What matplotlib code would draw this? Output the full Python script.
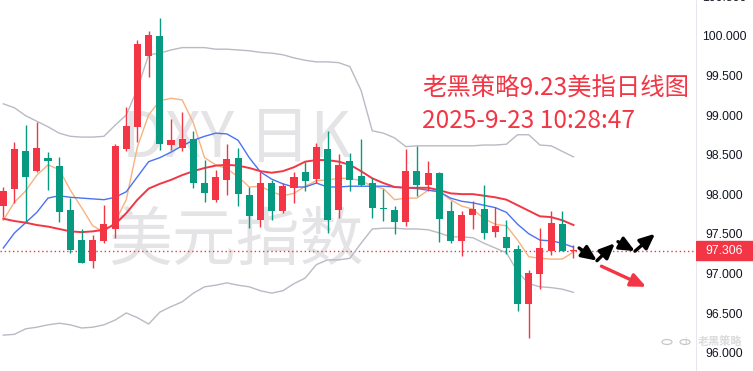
import matplotlib
matplotlib.use("Agg")
import matplotlib.pyplot as plt
from matplotlib.patches import Circle
import numpy as np

# ---- data (DXY daily candles) ----
opens = [97.870, 98.085, 98.564, 98.312, 98.476, 98.375, 97.820, 97.441, 97.176, 97.428,
         97.580, 98.590, 98.867, 99.764, 100.016, 98.640, 98.602, 98.716, 98.160, 97.946,
         98.198, 98.476, 98.009, 97.693, 98.160, 97.807, 98.097, 98.299, 98.211, 98.590,
         97.820, 98.438, 98.249, 98.160, 97.845, 97.820, 97.668, 98.312, 98.135, 98.287,
         97.807, 97.428, 97.756, 97.832, 97.542, 97.479, 97.327, 96.633, 97.011, 97.302,
         97.643, 97.300]
highs = [98.110, 98.678, 98.893, 98.931, 98.552, 98.489, 97.971, 97.580, 97.504, 97.883,
         98.653, 99.120, 99.966, 100.080, 100.244, 98.969, 99.057, 98.817, 98.451, 98.325,
         98.653, 98.602, 98.110, 98.299, 98.198, 98.160, 98.299, 98.426, 98.665, 98.817,
         98.527, 98.539, 98.716, 98.224, 98.085, 97.870, 98.590, 98.628, 98.438, 98.299,
         97.933, 97.807, 97.933, 98.135, 97.857, 97.693, 97.378, 97.062, 97.592, 97.807,
         97.807, 97.378]
lows = [97.731, 97.908, 97.668, 98.299, 98.072, 97.668, 97.277, 97.150, 97.087, 97.403,
        97.466, 98.564, 98.678, 99.499, 98.577, 98.577, 98.564, 98.097, 97.921, 97.921,
        98.009, 97.870, 97.592, 97.605, 97.693, 97.782, 97.908, 98.059, 98.160, 97.529,
        97.719, 98.059, 98.123, 97.719, 97.681, 97.517, 97.618, 97.996, 98.059, 97.416,
        97.403, 97.239, 97.580, 97.453, 97.479, 97.264, 96.544, 96.203, 96.822, 97.251,
        97.302, 97.213]
closes = [98.059, 98.590, 98.236, 98.602, 98.438, 97.794, 97.314, 97.150, 97.441, 97.643,
          98.628, 98.880, 99.915, 100.029, 98.653, 98.703, 98.716, 98.160, 98.034, 98.236,
          98.463, 98.022, 97.744, 98.160, 97.807, 98.123, 98.236, 98.186, 98.615, 97.693,
          98.388, 98.198, 98.135, 97.845, 97.832, 97.668, 98.312, 98.135, 98.287, 97.706,
          97.428, 97.756, 97.832, 97.529, 97.618, 97.340, 96.633, 97.024, 97.340, 97.655,
          97.302, 97.306]

boll_upper = [99.16, 99.11, 99.01, 98.94, 98.87, 98.79, 98.75, 98.74, 98.74, 98.75,
              98.89, 99.02, 99.35, 99.78, 99.80, 99.84, 99.87, 99.87, 99.87, 99.85,
              99.85, 99.84, 99.83, 99.81, 99.80, 99.78, 99.74, 99.71, 99.69, 99.69,
              99.68, 99.63, 99.33, 98.82, 98.79, 98.73, 98.62, 98.63, 98.63, 98.63,
              98.63, 98.63, 98.63, 98.64, 98.64, 98.65, 98.77, 98.77, 98.64, 98.63,
              98.56, 98.49]
boll_lower = [96.24, 96.25, 96.32, 96.34, 96.37, 96.39, 96.37, 96.33, 96.34, 96.37,
              96.43, 96.52, 96.46, 96.38, 96.53, 96.60, 96.66, 96.77, 96.85, 96.87,
              96.90, 96.87, 96.85, 96.80, 96.77, 96.80, 96.89, 96.96, 97.13, 97.19,
              97.19, 97.21, 97.40, 97.58, 97.59, 97.59, 97.58, 97.58, 97.57, 97.53,
              97.48, 97.48, 97.47, 97.40, 97.34, 97.28, 97.04, 96.89, 96.85, 96.84,
              96.82, 96.78]
ma20 = [97.71, 97.68, 97.66, 97.63, 97.61, 97.58, 97.55, 97.54, 97.55, 97.57,
        97.64, 97.78, 97.95, 98.09, 98.15, 98.20, 98.26, 98.31, 98.35, 98.38,
        98.39, 98.38, 98.35, 98.31, 98.29, 98.31, 98.36, 98.43, 98.45, 98.45,
        98.43, 98.39, 98.31, 98.22, 98.16, 98.11, 98.10, 98.10, 98.10, 98.07,
        98.03, 98.02, 98.02, 98.00, 97.98, 97.95, 97.88, 97.81, 97.74, 97.73,
        97.69, 97.63]
ma10 = [97.34, 97.53, 97.66, 97.79, 97.97, 98.00, 97.98, 97.97, 97.96, 97.95,
        97.98, 98.05, 98.24, 98.43, 98.48, 98.55, 98.63, 98.70, 98.75, 98.79,
        98.78, 98.70, 98.48, 98.30, 98.21, 98.15, 98.11, 98.11, 98.16, 98.11,
        98.11, 98.12, 98.12, 98.12, 98.12, 98.11, 98.10, 98.09, 98.07, 98.05,
        97.97, 97.93, 97.91, 97.88, 97.85, 97.79, 97.64, 97.52, 97.44, 97.43,
        97.40, 97.35]
ma5 = [97.69, 97.92, 98.06, 98.26, 98.39, 98.33, 98.07, 97.85, 97.62, 97.54,
       97.67, 97.95, 98.62, 99.02, 99.20, 99.23, 99.21, 98.92, 98.48, 98.39,
       98.34, 98.24, 98.11, 98.12, 98.05, 98.00, 98.03, 98.12, 98.19, 98.20,
       98.22, 98.22, 98.19, 98.12, 98.09, 97.95, 97.97, 97.97, 98.07, 98.05,
       97.95, 97.87, 97.83, 97.71, 97.64, 97.62, 97.44, 97.23, 97.21, 97.20,
       97.20, 97.29]

price_ticks = [96.0, 96.5, 97.0, 97.5, 98.0, 98.5, 99.0, 99.5, 100.0, 100.5]
last_price = 97.306

title_line1 = "老黑策略9.23美指日线图"
title_line2 = "2025-9-23 10:28:47"
watermark1 = "DXY 日K"
watermark2 = "美元指数"
logo_text = "老黑策略"

# ---- style ----
UP = "#f23645"
DOWN = "#089981"
W, H = 753, 371
plt.rcParams['font.family'] = ['Noto Sans CJK SC', 'DejaVu Sans']

fig = plt.figure(figsize=(W / 100, H / 100), dpi=100)
fig.patch.set_facecolor("white")
axis_x = 696
ax = fig.add_axes([0, 0, axis_x / W, 1])
ax2 = fig.add_axes([axis_x / W, 0, 1 - axis_x / W, 1])

ymin, ymax = 95.787, 100.471
spacing = 11.18
xmin = -3.3 / spacing
xmax = (axis_x - 3.3) / spacing
ax.set_xlim(xmin, xmax)
ax.set_ylim(ymin, ymax)
ax2.set_ylim(ymin, ymax)
ax2.set_xlim(0, 1)
for a in (ax, ax2):
    a.set_axis_off()

x = np.arange(len(closes))

# watermark
wm_x = (236 - 3.3) / spacing
ax.text(wm_x, 98.72, watermark1, fontsize=45, color="#e4e4e7", ha="center",
        va="center", zorder=0)
ax.text(wm_x, 97.42, watermark2, fontsize=46, color="#e4e4e7", ha="center",
        va="center", zorder=0)

# bollinger bands and moving averages
ax.plot(x, boll_upper, color="#b9bac4", lw=1.0, zorder=2)
ax.plot(x, boll_lower, color="#b9bac4", lw=1.0, zorder=2)
ax.plot(x, ma5, color="#f7b27f", lw=1.0, zorder=2)
ax.plot(x, ma10, color="#4a73f0", lw=1.0, zorder=2)
ax.plot(x, ma20, color="#f23645", lw=1.4, zorder=2)

# candles
colors = [UP if c >= o else DOWN for o, c in zip(opens, closes)]
ax.vlines(x, lows, highs, colors=colors, lw=1.0, zorder=3)
bottoms = [min(o, c) for o, c in zip(opens, closes)]
heights = [max(abs(c - o), 0.013) for o, c in zip(opens, closes)]
ax.bar(x, heights, bottom=bottoms, width=0.63, color=colors, linewidth=0, zorder=4)

# last price dotted line
ax.axhline(last_price, color=UP, lw=1.0, linestyle=(0, (1, 2)), zorder=1)

# title text
tx = (422 - 3.3) / spacing
ax.text(tx, 99.35, title_line1, fontsize=17.6, color="#f23645", ha="left", va="center", zorder=6)
ax.text(tx, 98.94, title_line2, fontsize=17.6, color="#f23645", ha="left", va="center", zorder=6)

# hand-drawn arrows
def arrow(x0, y0, x1, y1, color):
    ax.annotate("", xy=(x1, y1), xytext=(x0, y0),
                arrowprops=dict(arrowstyle="-|>,head_length=0.9,head_width=0.4",
                                color=color, lw=2.4, shrinkA=0, shrinkB=0), zorder=7)

arrow(51.5, 97.34, 53.1, 97.18, "black")
arrow(53.1, 97.18, 54.7, 97.40, "black")
arrow(54.98, 97.42, 56.5, 97.30, "black")
arrow(56.5, 97.30, 58.3, 97.52, "black")
arrow(53.5, 97.11, 57.5, 96.85, UP)

# price scale on the right
ax2.axvline(0, color="#e0e3eb", lw=1.2)
for t in price_ticks:
    ax2.text(0.5, t, f"{t:.3f}", fontsize=8.8, color="#131722", ha="center", va="center",
             family=["Liberation Sans", "DejaVu Sans"], clip_on=True)
box_h = 0.12
ax2.add_patch(plt.Rectangle((0.0, last_price - box_h), 1.0, 2 * box_h, color=UP, zorder=5))
ax2.text(0.5, last_price, f"{last_price:.3f}", fontsize=8.8, color="white", ha="center",
         va="center", family=["Liberation Sans", "DejaVu Sans"], zorder=6)

# faint logo watermark at bottom right
for cx in (667, 685):
    fig.add_artist(Circle((cx / W, 1 - 342 / H), 5 / W, transform=fig.transFigure,
                          fill=False, edgecolor="#c8c8c8", lw=0.9))
fig.text(685 / W, 1 - 342 / H, "i", fontsize=6, color="#c0c0c0", ha="center", va="center",
         family=["DejaVu Sans"])
fig.text(720 / W, 1 - 342 / H, logo_text, fontsize=8, color="#dcdcdc", ha="center",
         va="center", fontweight="bold")

fig.savefig("out.png", dpi=100, facecolor="white")
